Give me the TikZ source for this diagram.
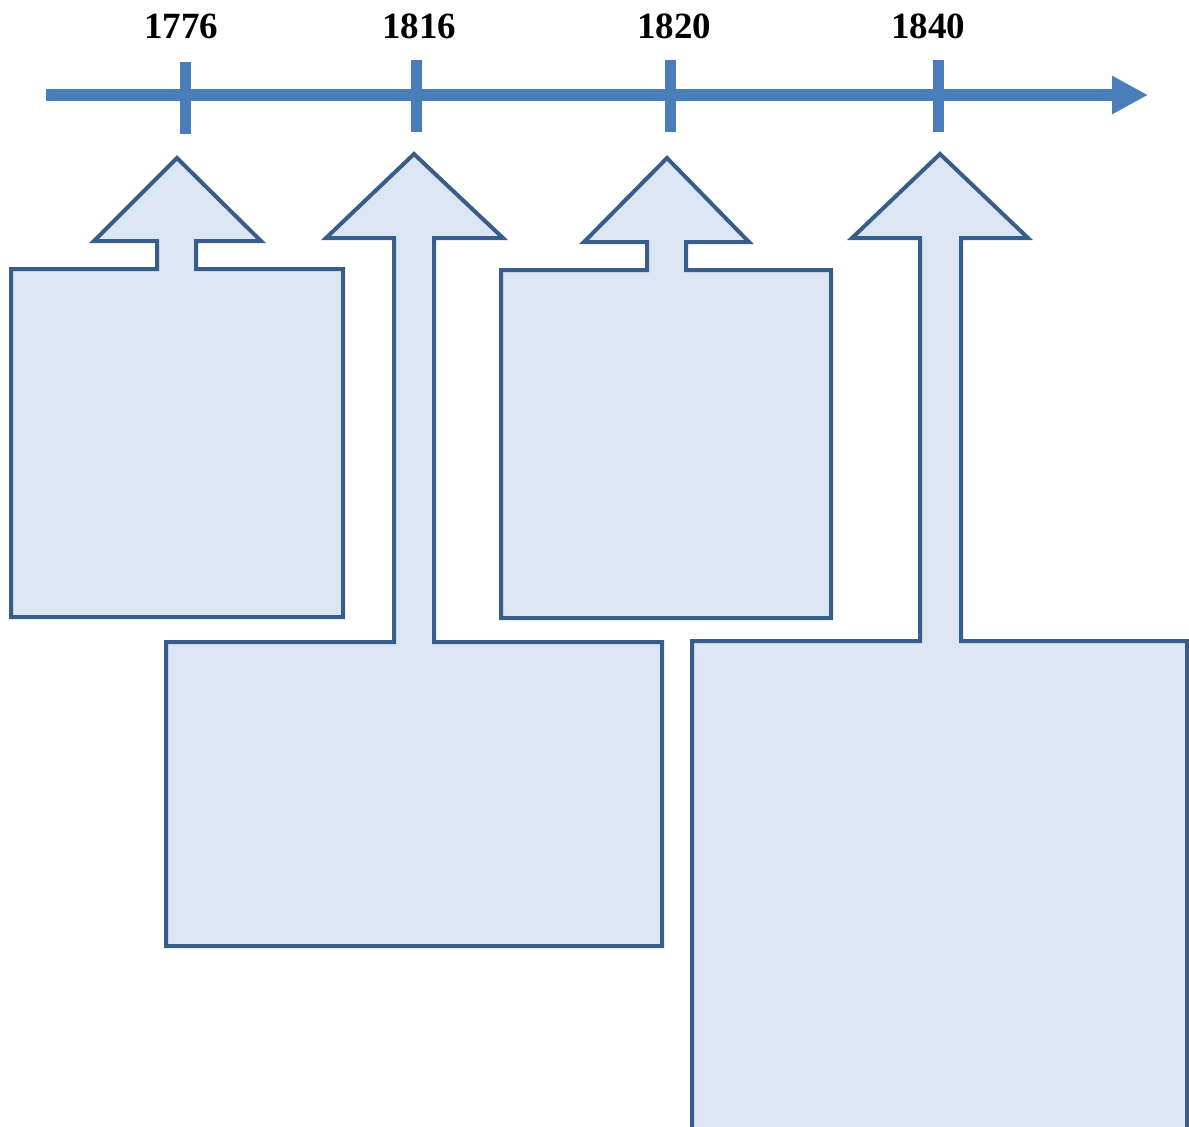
\documentclass[tikz,border=0pt]{standalone}
\usepackage{fontspec}
\setmainfont{Liberation Serif}
\usetikzlibrary{arrows.meta}
\definecolor{axisblue}{HTML}{4A7EBB}
\definecolor{edgeblue}{HTML}{385D8A}
\definecolor{fillblue}{HTML}{DCE6F2}
\tikzset{
  callout/.style={draw=edgeblue, fill=fillblue, line width=2pt, line join=miter},
  tickmark/.style={draw=axisblue, line width=5.5pt},
  yearlabel/.style={font=\fontsize{18.5}{22}\selectfont\bfseries, inner sep=0pt, anchor=center}
}
\begin{document}
\begin{tikzpicture}[x=0.5pt, y=-0.5pt]
\useasboundingbox (0,0) rectangle (1189,1126);
\clip (0,0) rectangle (1189,1126);
% axis
\coordinate (axstart) at (46,95);
\coordinate (axend) at (1148,95);
\draw[axisblue, line width=6pt, -{Triangle[length=18pt, width=18pt]}] (axstart) -- (axend);
% ticks
\coordinate (t1a) at (185,62);  \coordinate (t1b) at (185,134);
\coordinate (t2a) at (416,60);  \coordinate (t2b) at (416,132);
\coordinate (t3a) at (670,60);  \coordinate (t3b) at (670,132);
\coordinate (t4a) at (938,60);  \coordinate (t4b) at (938,132);
\draw[tickmark] (t1a) -- (t1b);
\draw[tickmark] (t2a) -- (t2b);
\draw[tickmark] (t3a) -- (t3b);
\draw[tickmark] (t4a) -- (t4b);
% labels
\node[yearlabel] (y1776) at (181,26) {1776};
\node[yearlabel] (y1816) at (419,26) {1816};
\node[yearlabel] (y1820) at (674,26) {1820};
\node[yearlabel] (y1840) at (928,26) {1840};
% callout 1
\draw[callout] (177,158) -- (261,241) -- (196,241) -- (196,269) -- (343,269) -- (343,617)
  -- (11,617) -- (11,269) -- (157,269) -- (157,241) -- (94,241) -- cycle;
% callout 2
\draw[callout] (414,154) -- (503,238) -- (434,238) -- (434,642) -- (662,642) -- (662,946)
  -- (166,946) -- (166,642) -- (394,642) -- (394,238) -- (326,238) -- cycle;
% callout 3
\draw[callout] (667,158) -- (749,242) -- (686,242) -- (686,270) -- (831,270) -- (831,618)
  -- (501,618) -- (501,270) -- (647,270) -- (647,242) -- (584,242) -- cycle;
% callout 4
\draw[callout] (940,154) -- (1028,238) -- (961,238) -- (961,641) -- (1187,641) -- (1187,1140)
  -- (692,1140) -- (692,641) -- (920,641) -- (920,238) -- (852,238) -- cycle;
\end{tikzpicture}
\end{document}
